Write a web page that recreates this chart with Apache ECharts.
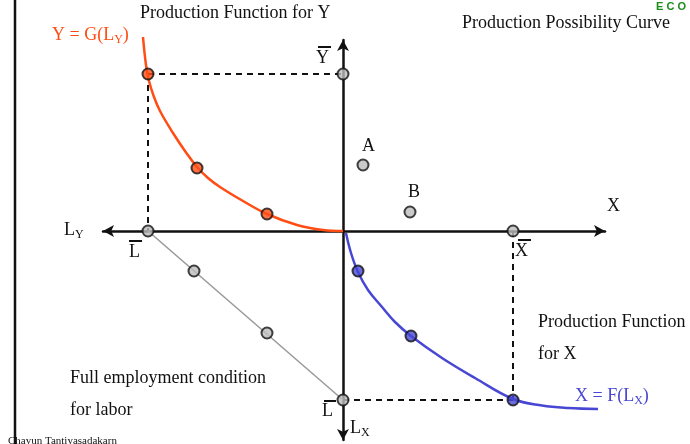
<!DOCTYPE html>
<html>
<head>
<meta charset="utf-8">
<script src="https://cdn.jsdelivr.net/npm/echarts@6/dist/echarts.min.js"></script>
<style>
  html, body { margin: 0; padding: 0; background: #fff; }
  #chart { width: 690px; height: 444px; }
</style>
</head>
<body>
<div id="chart"></div>
<script>
// origin of the diagram is where the two axes cross, 1 unit ~ 1 px
// Y = G(L_Y), upper-left quadrant
const gCurve = [[-200, 194], [-197, 166], [-194, 150], [-189, 134], [-183, 120], [-170, 98], [-158, 80],
  [-146, 64], [-135, 53], [-123, 44], [-100, 30], [-76, 17], [-46, 6], [-20, 1], [0, 0]];
// X = F(L_X), lower-right quadrant
const fCurve = [[3, -2], [8, -22], [15, -41], [25, -59], [39, -76], [52, -91], [68, -105], [99, -127],
  [132, -147], [170, -168], [199, -174.5], [225, -177], [255, -178]];
// full employment condition for labor
const laborLine = [[-195, 0], [0, -169]];
// dashed guide lines
const guideLines = [
  [[-195, 157], [0, 157]],
  [[-195, 157], [-195, 0]],
  [[170, 0], [170, -169]],
  [[0, -169], [170, -169]]
];
const orangeDots = [[-195, 157], [-146, 63], [-76, 17]];
const blueDots = [[15, -40], [68, -105], [170, -169]];
const greyDots = [[0, 157], [-195, 0], [170, 0], [0, -169], [-149, -40], [-76, -102], [20, 66], [67, 19]];

const orange = '#ff4d14';
const blue = '#4747d4';
const serif = '"Liberation Serif", "DejaVu Serif", serif';

const chart = echarts.init(document.getElementById('chart'));

function txt(x, y, text, opts) {
  return {
    type: 'text', left: x, top: y,
    style: Object.assign({ text: text, font: '18px ' + serif, fill: '#111' }, opts || {})
  };
}
function sub(main, s, color) {
  return {
    text: '{n|' + main + '}{s|' + s + '}{n|' + (main.indexOf('(') >= 0 ? ')' : '') + '}',
    fill: color,
    rich: {
      n: { fontSize: 18, fontFamily: serif, fill: color, lineHeight: 22 },
      s: { fontSize: 12, fontFamily: serif, fill: color, lineHeight: 8, verticalAlign: 'bottom' }
    }
  };
}
function bar(x1, x2, y) {
  return { type: 'line', shape: { x1: x1, y1: y, x2: x2, y2: y }, style: { stroke: '#111', lineWidth: 2 } };
}

const guideSeries = guideLines.map(seg => ({
  type: 'line', data: seg, symbol: 'none', clip: false, silent: true,
  lineStyle: { color: '#111', width: 2, type: [6, 5] }, z: 3
}));

const option = {
  animation: false,
  backgroundColor: '#fff',
  grid: { left: 103, right: 85, top: 40, bottom: 4 },
  xAxis: {
    type: 'value', min: -240, max: 262,
    axisLine: { onZero: true, symbol: ['arrow', 'arrow'], symbolSize: [9, 11], lineStyle: { color: '#111', width: 2.5 } },
    axisTick: { show: false }, axisLabel: { show: false }, splitLine: { show: false }
  },
  yAxis: {
    type: 'value', min: -209, max: 191,
    axisLine: { onZero: true, symbol: ['arrow', 'arrow'], symbolSize: [9, 11], lineStyle: { color: '#111', width: 2.5 } },
    axisTick: { show: false }, axisLabel: { show: false }, splitLine: { show: false }
  },
  series: guideSeries.concat([
    {
      type: 'line', data: laborLine, symbol: 'none', clip: false,
      lineStyle: { color: '#999', width: 1.5 }, z: 3
    },
    {
      type: 'line', data: gCurve, smooth: 0.4, symbol: 'none', clip: false,
      lineStyle: { color: orange, width: 2.5 }, z: 4
    },
    {
      type: 'line', data: fCurve, smooth: 0.4, symbol: 'none', clip: false,
      lineStyle: { color: blue, width: 2.5 }, z: 4
    },
    {
      type: 'scatter', data: greyDots, symbolSize: 11, clip: false,
      itemStyle: { color: '#bdbdbd', borderColor: '#111', borderWidth: 2 }, z: 6
    },
    {
      type: 'scatter', data: orangeDots, symbolSize: 11, clip: false,
      itemStyle: { color: orange, borderColor: '#111', borderWidth: 2 }, z: 6
    },
    {
      type: 'scatter', data: blueDots, symbolSize: 11, clip: false,
      itemStyle: { color: blue, borderColor: '#111', borderWidth: 2 }, z: 6
    }
  ]),
  graphic: [
    { type: 'line', shape: { x1: 15, y1: 0, x2: 15, y2: 444 }, style: { stroke: '#111', lineWidth: 2.5 } },
    txt(140, 4, 'Production Function for Y'),
    txt(462, 14, 'Production Possibility Curve'),
    { type: 'text', left: 52, top: 26, style: sub('Y = G(L', 'Y', orange) },
    txt(316, 49, 'Y'), bar(318, 331, 47),
    txt(362, 137, 'A'),
    txt(408, 183, 'B'),
    txt(607, 197, 'X'),
    { type: 'text', left: 64, top: 221, style: sub('L', 'Y', '#111') },
    txt(129, 243, 'L'), bar(129, 142, 241),
    txt(515, 242, 'X'), bar(518, 531, 240),
    txt(538, 313, 'Production Function'),
    txt(538, 345, 'for X'),
    { type: 'text', left: 575, top: 387, style: sub('X = F(L', 'X', blue) },
    txt(70, 369, 'Full employment condition'),
    txt(70, 401, 'for labor'),
    txt(322, 402, 'L'), bar(324, 336, 401),
    { type: 'text', left: 350, top: 419, style: sub('L', 'X', '#111') },
    txt(8, 436, 'Chayun Tantiyasadakarn', { font: '11px ' + serif }),
    txt(656, 1, 'E C O', { font: 'bold 11px "Liberation Sans", Arial, sans-serif', fill: '#1a8c1a' })
  ]
};

chart.setOption(option);
</script>
</body>
</html>
